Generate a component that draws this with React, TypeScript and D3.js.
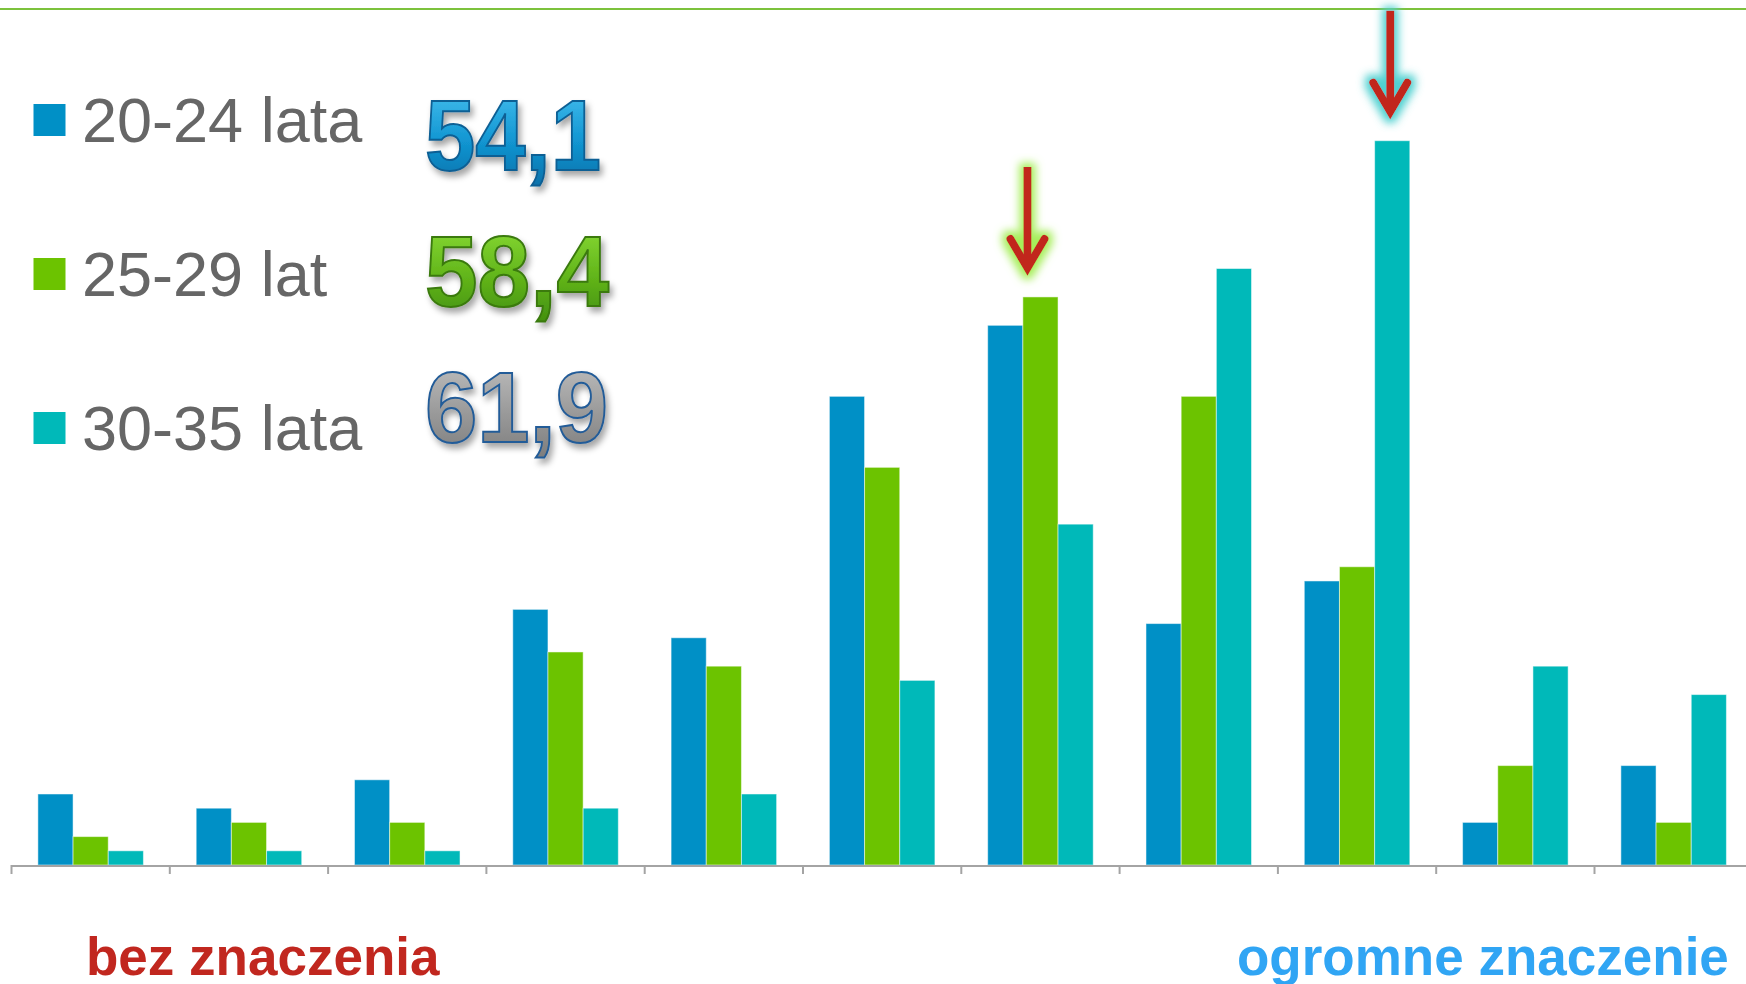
import React from 'react';
import * as d3 from 'd3';

// scale 0..10, count of answers per age group
const categories = ['0', '1', '2', '3', '4', '5', '6', '7', '8', '9', '10'];
const seriesNames = ['20-24 lata', '25-29 lat', '30-35 lata'];
const values2024 = [5, 4, 6, 18, 16, 33, 38, 17, 20, 3, 7];
const values2529 = [2, 3, 3, 15, 14, 28, 40, 33, 21, 7, 3];
const values3035 = [1, 1, 1, 4, 5, 13, 24, 42, 51, 14, 12];
const averages = ['54,1', '58,4', '61,9'];
const colors = ['#0090c6', '#6cc300', '#00b9b9'];
const leftLabel = 'bez znaczenia';
const rightLabel = 'ogromne znaczenie';

// arrows pointing at the highest bar of two age groups
const arrows = [
  { cat: '6', series: 1, dx: -13, glow: '#a6ee5a' },
  { cat: '8', series: 2, dx: -2, glow: '#4fd0d0' },
];

const W = 1746;
const H = 984;
const baseY = 865;

export default function App() {
  const series = [values2024, values2529, values3035];

  const step = 158.3;
  const x0 = d3
    .scaleBand()
    .domain(categories)
    .range([11.5, 11.5 + step * categories.length])
    .paddingInner(1 / 3)
    .paddingOuter(1 / 6);
  const x1 = d3.scaleBand().domain(['0', '1', '2']).range([0, x0.bandwidth()]);
  const y = d3.scaleLinear().domain([0, 51]).range([baseY, 140.7]);

  const tickXs = d3.range(categories.length + 1).map((i) => 11.5 + i * step);

  const gradStops = [
    ['#4cc4f2', '#1296d2', '#0a6da6'],
    ['#8ee03a', '#62b51a', '#3f8c0e'],
    ['#c4c4c4', '#9a9a9a', '#7a7a7a'],
  ];
  const numStroke = ['#0d5f94', '#3a7a10', '#245c98'];
  const numWidth = [176, 184, 183];

  return (
    <svg
      width={W}
      height={H}
      style={{ position: 'absolute', left: 0, top: 0, background: '#fff' }}
      fontFamily="'Liberation Sans', Arial, sans-serif"
    >
      <defs>
        {gradStops.map((s, i) => (
          <linearGradient key={i} id={`num${i}`} x1="0" y1="0" x2="0" y2="1">
            <stop offset="0%" stopColor={s[0]} />
            <stop offset="55%" stopColor={s[1]} />
            <stop offset="100%" stopColor={s[2]} />
          </linearGradient>
        ))}
        <filter id="shadow" x="-10%" y="-10%" width="130%" height="140%">
          <feDropShadow dx="3" dy="5" stdDeviation="3" floodColor="#000" floodOpacity="0.35" />
        </filter>
        {arrows.map((a, i) => (
          <filter key={i} id={`glow${i}`} x="-100%" y="-30%" width="300%" height="160%">
            <feMorphology in="SourceAlpha" operator="dilate" radius="4" result="d" />
            <feGaussianBlur in="d" stdDeviation="4" result="b" />
            <feFlood floodColor={a.glow} />
            <feComposite in2="b" operator="in" result="g" />
            <feMerge>
              <feMergeNode in="g" />
              <feMergeNode in="SourceGraphic" />
            </feMerge>
          </filter>
        ))}
      </defs>

      {/* top rule */}
      <line x1={0} x2={W} y1={9} y2={9} stroke="#7cc23c" strokeWidth={2} />

      {/* bars */}
      {categories.map((c, ci) => (
        <g key={c} transform={`translate(${x0(c)},0)`}>
          {series.map((vals, si) => (
            <rect
              key={si}
              x={x1(String(si))}
              y={y(vals[ci])}
              width={x1.bandwidth()}
              height={baseY - y(vals[ci])}
              fill={colors[si]}
              stroke="rgba(255,255,255,0.5)"
              strokeWidth={1}
            />
          ))}
        </g>
      ))}

      {/* axis */}
      <line x1={11.5} x2={W} y1={baseY + 1} y2={baseY + 1} stroke="#a4a4a4" strokeWidth={2} />
      {tickXs.map((tx, i) => (
        <line key={i} x1={tx} x2={tx} y1={baseY} y2={baseY + 9} stroke="#a4a4a4" strokeWidth={2} />
      ))}

      {/* legend */}
      {seriesNames.map((name, i) => {
        const top = 104 + i * 154;
        return (
          <g key={name}>
            <rect x={33.5} y={top} width={32} height={32} fill={colors[i]} />
            <text x={82} y={top + 38} fontSize={63} fill="#666">
              {name}
            </text>
            <text
              x={425}
              y={170 + i * 136}
              fontSize={100}
              fontWeight="bold"
              fill={`url(#num${i})`}
              stroke={numStroke[i]}
              strokeWidth={2}
              textLength={numWidth[i]}
              lengthAdjust="spacingAndGlyphs"
              filter="url(#shadow)"
            >
              {averages[i]}
            </text>
          </g>
        );
      })}

      {/* arrows */}
      {arrows.map((a, i) => {
        const vals = series[a.series];
        const ci = categories.indexOf(a.cat);
        const cx = (x0(a.cat) ?? 0) + (x1(String(a.series)) ?? 0) + x1.bandwidth() / 2 + a.dx;
        const tip = y(vals[ci]) - 26;
        const tail = tip - 104;
        return (
          <g key={i} filter={`url(#glow${i})`}>
            <line x1={cx} x2={cx} y1={tail} y2={tip - 4} stroke="#c1281f" strokeWidth={8} />
            <path
              d={`M${cx - 17},${tip - 32} L${cx},${tip - 3} L${cx + 17},${tip - 32}`}
              fill="none"
              stroke="#c1281f"
              strokeWidth={8}
              strokeLinecap="round"
              strokeLinejoin="miter"
            />
          </g>
        );
      })}

      {/* scale ends */}
      <text x={86} y={975} fontSize={53} fontWeight="bold" fill="#c1271f">
        {leftLabel}
      </text>
      <text x={1237} y={975} fontSize={53} fontWeight="bold" fill="#30a5f4">
        {rightLabel}
      </text>
    </svg>
  );
}
